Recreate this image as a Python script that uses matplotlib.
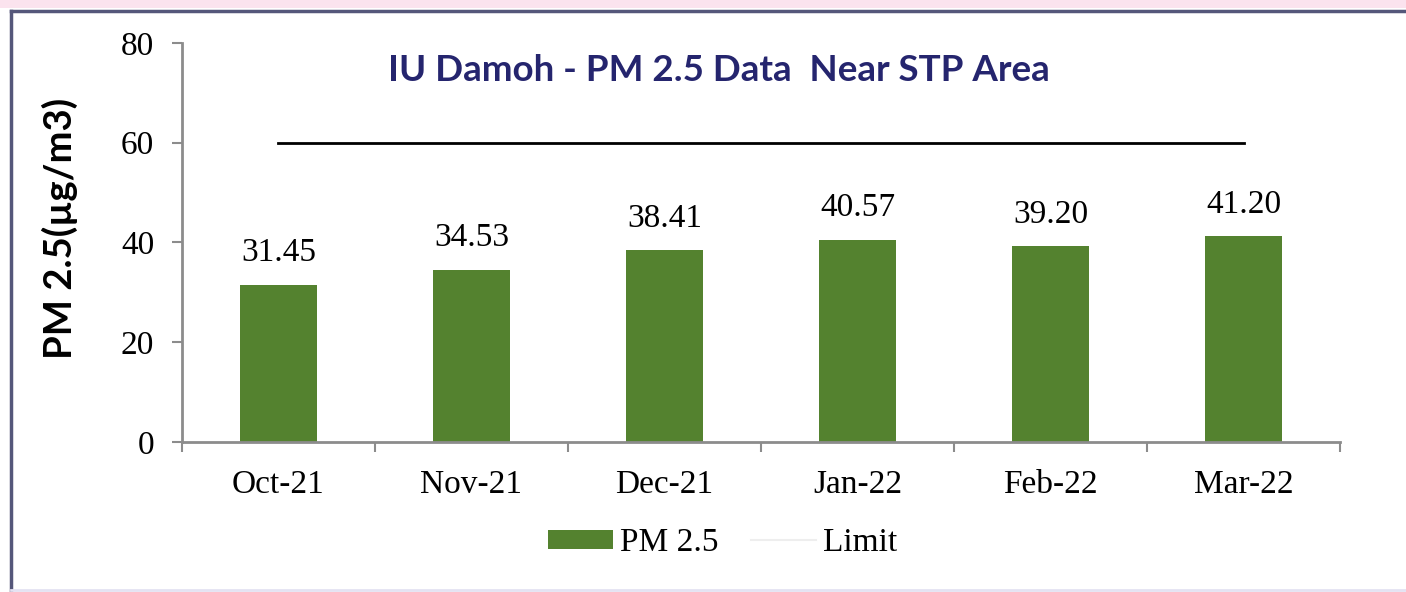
import matplotlib.pyplot as plt
from matplotlib.patches import Rectangle, Patch
from matplotlib.lines import Line2D
import numpy as np

# data
months = ['Oct-21', 'Nov-21', 'Dec-21', 'Jan-22', 'Feb-22', 'Mar-22']
pm25 = [31.45, 34.53, 38.41, 40.57, 39.20, 41.20]
limit = [60, 60, 60, 60, 60, 60]
yticks = [0, 20, 40, 60, 80]

serif = 'Liberation Serif'
green = '#54822f'
navy = '#25256e'
spine_gray = '#8c8c8c'

fig = plt.figure(figsize=(14.06, 5.92), dpi=100)
ax = fig.add_axes([0.1294, 0.2534, 0.8237, 0.674])

x = np.arange(len(months))
bars = ax.bar(x, pm25, width=0.4, color=green, label='PM 2.5', zorder=2)
ax.plot(x, limit, color='black', linewidth=2, zorder=3)

ax.bar_label(bars, labels=[f'{v:.2f}' for v in pm25], padding=12,
             fontsize=24, family=serif)

ax.set_xlim(-0.5, len(months) - 0.5)
ax.set_ylim(0, 80)
ax.set_yticks(yticks)
ax.set_yticklabels([str(t) for t in yticks], fontsize=24, family=serif)
ax.set_xticks(x)
ax.set_xticklabels(months, fontsize=24, family=serif)
ax.set_xticks(np.arange(-0.5, len(months), 1), minor=True)
ax.tick_params(axis='x', which='major', length=0, pad=20)
ax.tick_params(axis='x', which='minor', length=7, width=1.5, color=spine_gray)
ax.tick_params(axis='y', length=7, width=1.5, color=spine_gray, pad=13)

for s in ['top', 'right']:
    ax.spines[s].set_visible(False)
for s in ['left', 'bottom']:
    ax.spines[s].set_color(spine_gray)
    ax.spines[s].set_linewidth(2)

ax.set_ylabel('PM 2.5(µg/m3)', fontsize=27.5, fontweight='bold', family='Lato')
ax.yaxis.set_label_coords(-0.09, 0.536)

ax.text(0.464, 0.93, 'IU Damoh - PM 2.5 Data  Near STP Area', transform=ax.transAxes,
        ha='center', va='center', fontsize=26.5, fontweight='bold',
        family='Lato', color=navy)

handles = [Patch(facecolor=green, label='PM 2.5'),
           Line2D([], [], color='#eeeeee', linewidth=1.5, label='Limit')]
fig.legend(handles=handles, loc='center', bbox_to_anchor=(0.514, 0.083), ncol=2,
           frameon=False, prop={'family': serif, 'size': 24},
           handlelength=1.95, handleheight=0.5, columnspacing=1.0, handletextpad=0.2)

# pink strip at top and the outer frame
fig.patches.append(Rectangle((0, 0.987), 1, 0.013, transform=fig.transFigure,
                             facecolor='#fbe3ee', edgecolor='none', zorder=0))
fig.add_artist(Line2D([0.0078, 0.0078], [0.003, 0.981], transform=fig.transFigure,
                      color='#55577a', linewidth=2.5))
fig.add_artist(Line2D([0.0078, 1.0], [0.981, 0.981], transform=fig.transFigure,
                      color='#55577a', linewidth=2.5))
fig.add_artist(Line2D([0.0078, 1.0], [0.004, 0.004], transform=fig.transFigure,
                      color='#e4e2f2', linewidth=2))

fig.savefig('out.png', dpi=100)
